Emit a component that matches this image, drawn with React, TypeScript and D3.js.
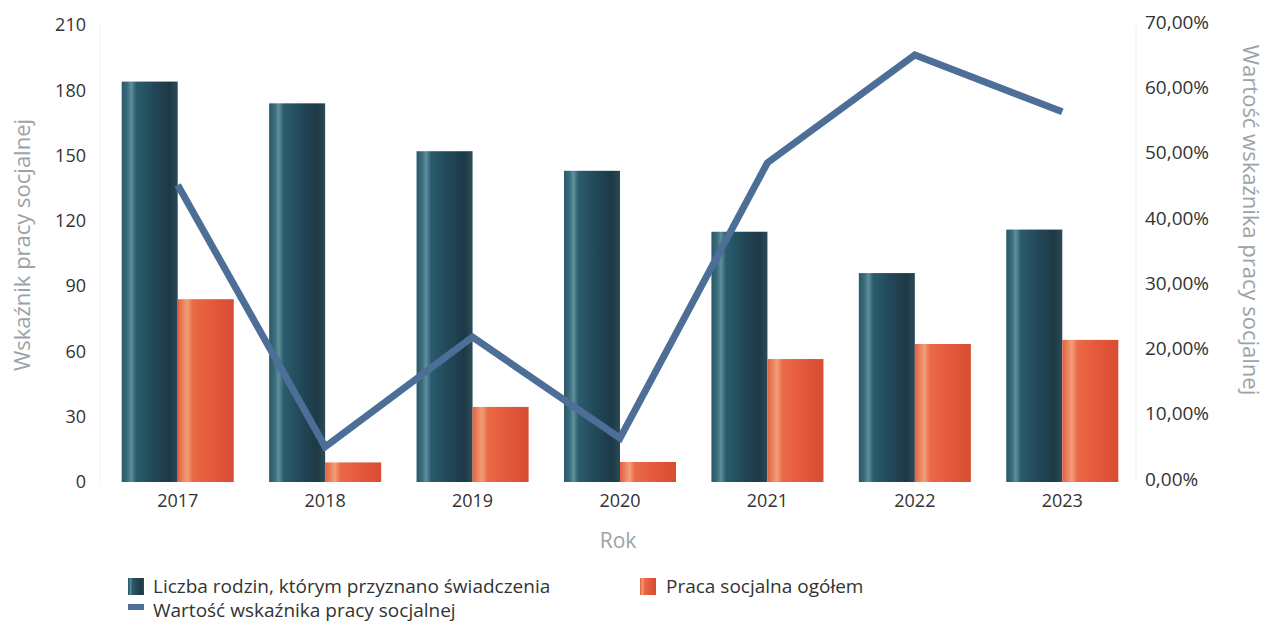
import React from "react";
import * as d3 from "d3";

const years = ["2017", "2018", "2019", "2020", "2021", "2022", "2023"];
const rodziny = [184, 174, 152, 143, 115, 96, 116];
const praca = [84, 9, 34.5, 9.2, 56.5, 63.4, 65.3];
const wskaznik = [0.455, 0.054, 0.222, 0.067, 0.489, 0.654, 0.567];
const leftTicks = [0, 30, 60, 90, 120, 150, 180, 210];
const rightTicks = [0, 0.1, 0.2, 0.3, 0.4, 0.5, 0.6, 0.7];

const W = 1270;
const H = 622;
const plot = { left: 104, right: 1136, top: 25, bottom: 482 };
const FONT = "'Open Sans', 'DejaVu Sans', sans-serif";

export default function App() {
  const x = d3
    .scaleBand<string>()
    .domain(years)
    .range([plot.left, plot.right])
    .paddingInner(0.24)
    .paddingOuter(0.12);
  const yL = d3.scaleLinear().domain([0, 210]).range([plot.bottom, plot.top]);
  const yR = d3.scaleLinear().domain([0, 0.7]).range([plot.bottom, plot.top]);
  const bw = x.bandwidth() / 2;
  const center = (y: string) => (x(y) as number) + bw;
  const line = d3
    .line<number>()
    .x((_, i) => center(years[i]))
    .y((d) => yR(d));
  const fmtPct = (v: number) => (v * 100).toFixed(2).replace(".", ",") + "%";

  return (
    <svg
      width={W}
      height={H}
      style={{ position: "absolute", left: 0, top: 0, background: "#fff" }}
      fontFamily={FONT}
    >
      <defs>
        <linearGradient id="gDark" x1="0" x2="1" y1="0" y2="0">
          <stop offset="0" stopColor="#29596a" />
          <stop offset="0.1" stopColor="#3a6c7c" />
          <stop offset="0.17" stopColor="#5f8f9b" />
          <stop offset="0.26" stopColor="#2a5c6e" />
          <stop offset="0.55" stopColor="#22495a" />
          <stop offset="0.85" stopColor="#1d3946" />
          <stop offset="1" stopColor="#2b4a57" />
        </linearGradient>
        <linearGradient id="gOrange" x1="0" x2="1" y1="0" y2="0">
          <stop offset="0" stopColor="#e2603f" />
          <stop offset="0.1" stopColor="#ec8560" />
          <stop offset="0.17" stopColor="#f19f7a" />
          <stop offset="0.27" stopColor="#ea6a46" />
          <stop offset="0.65" stopColor="#e3573a" />
          <stop offset="1" stopColor="#d84c33" />
        </linearGradient>
      </defs>

      <line x1={100} x2={100} y1={plot.top} y2={plot.bottom} stroke="#eef1f2" />
      <line x1={1136} x2={1136} y1={plot.top} y2={plot.bottom} stroke="#eef1f2" />

      {leftTicks.map((t) => (
        <text
          key={"l" + t}
          x={86}
          y={yL(t)}
          dy="0.35em"
          textAnchor="end"
          fontSize={18}
          fill="#333"
        >
          {t}
        </text>
      ))}
      {rightTicks.map((t) => (
        <text
          key={"r" + t}
          x={1145}
          y={yR(t) - 3}
          dy="0.35em"
          textAnchor="start"
          fontSize={19}
          fill="#333"
        >
          {fmtPct(t)}
        </text>
      ))}

      {years.map((y, i) => (
        <g key={y}>
          <rect
            x={x(y) as number}
            y={yL(rodziny[i])}
            width={bw}
            height={plot.bottom - yL(rodziny[i])}
            fill="url(#gDark)"
          />
          <rect
            x={(x(y) as number) + bw}
            y={yL(praca[i])}
            width={bw}
            height={plot.bottom - yL(praca[i])}
            fill="url(#gOrange)"
          />
          <text
            x={center(y)}
            y={507}
            textAnchor="middle"
            fontSize={18}
            fill="#333"
          >
            {y}
          </text>
        </g>
      ))}

      <path
        d={line(wskaznik) || ""}
        fill="none"
        stroke="#4d6f97"
        strokeWidth={7}
        strokeLinejoin="miter"
      />

      <text x={618} y={548} textAnchor="middle" fontSize={21} fill="#9aa3a8">
        Rok
      </text>
      <text
        transform={`translate(22,245) rotate(-90)`}
        dy="0.35em"
        textAnchor="middle"
        fontSize={22}
        fill="#9aa3a8"
      >
        Wskaźnik pracy socjalnej
      </text>
      <text
        transform={`translate(1251,220) rotate(90)`}
        dy="0.35em"
        textAnchor="middle"
        fontSize={22}
        fill="#9aa3a8"
      >
        Wartość wskaźnika pracy socjalnej
      </text>

      <g fontSize={19} fill="#333">
        <rect x={128} y={578} width={16} height={17} fill="url(#gDark)" />
        <text x={153} y={593}>Liczba rodzin, którym przyznano świadczenia</text>
        <rect x={640} y={578} width={16} height={17} fill="url(#gOrange)" />
        <text x={666} y={593}>Praca socjalna ogółem</text>
        <rect x={128} y={604} width={16} height={6} fill="#4d6f97" />
        <text x={153} y={617}>Wartość wskaźnika pracy socjalnej</text>
      </g>
    </svg>
  );
}
